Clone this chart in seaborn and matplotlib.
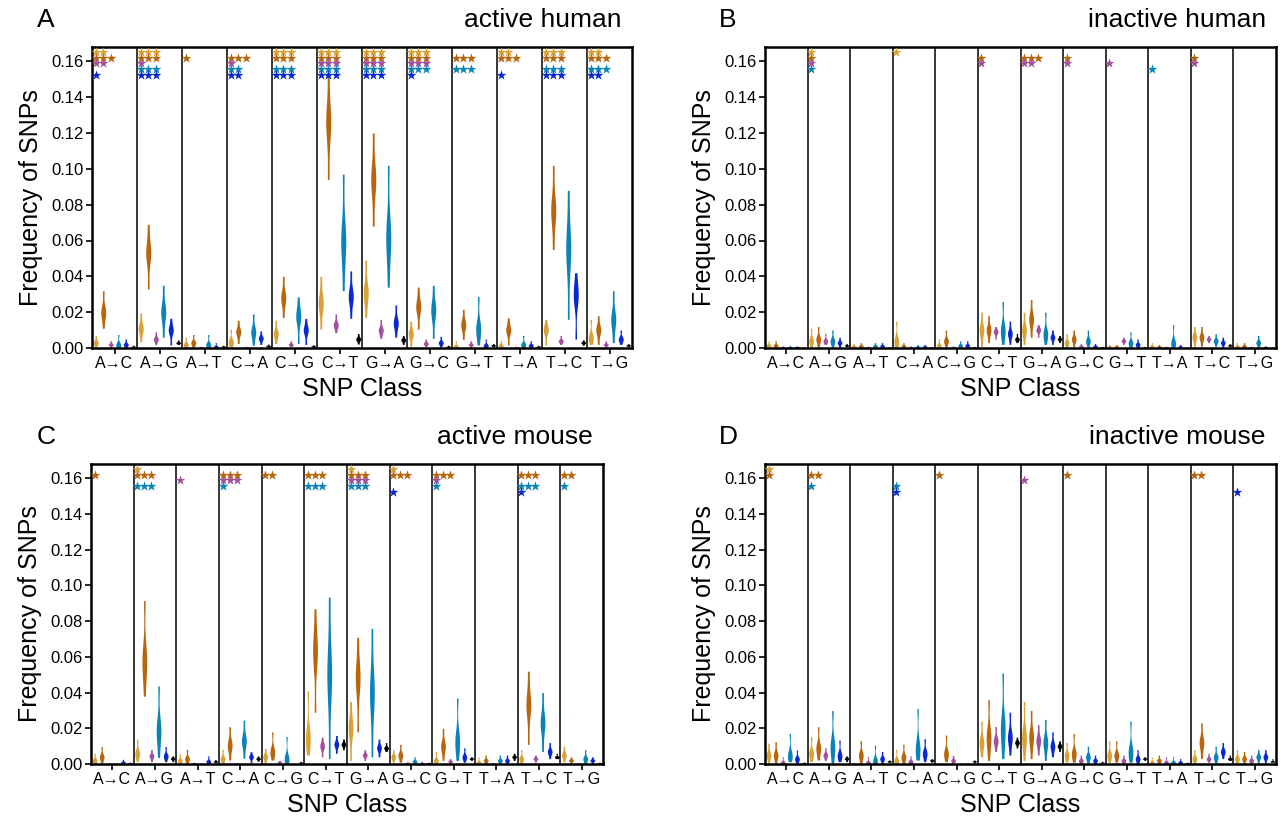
import numpy as np
import pandas as pd
import matplotlib
matplotlib.use("Agg")
import matplotlib.pyplot as plt
import seaborn as sns

sns.set_style("ticks")
plt.rcParams['font.family'] = ['Liberation Sans', 'DejaVu Sans']
plt.rcParams['text.color'] = 'black'
plt.rcParams['axes.labelcolor'] = 'black'
plt.rcParams['xtick.color'] = 'black'
plt.rcParams['ytick.color'] = 'black'

classes = ["A→C", "A→G", "A→T", "C→A", "C→G", "C→T",
           "G→A", "G→C", "G→T", "T→A", "T→C", "T→G"]
groups = ["group 1", "group 2", "group 3", "group 4", "group 5", "group 6"]
palette = ["#D9A136", "#B8650C", "#A2509E", "#0A84B8", "#0A28D0", "#000000"]
panel_titles = ["active human", "inactive human", "active mouse", "inactive mouse"]
panel_letters = ["A", "B", "C", "D"]
yticks = [0.00, 0.02, 0.04, 0.06, 0.08, 0.10, 0.12, 0.14, 0.16]
star_levels = [0.1654, 0.1621, 0.1589, 0.1555, 0.1523]

# ---- active human: rows = SNP class, columns = 6 groups ----
ah_lo = [[0.0003, 0.011, 0.0005, 0.0, 0.0, 0.0003],
         [0.0035, 0.033, 0.002, 0.006, 0.0017, 0.002],
         [0.0, 0.0005, 0.0001, 0.0, 0.0, 0.0003],
         [0.0003, 0.0025, 0.0001, 0.0015, 0.002, 0.0006],
         [0.0025, 0.017, 0.0005, 0.0025, 0.002, 0.0004],
         [0.0105, 0.094, 0.0086, 0.032, 0.0166, 0.0022],
         [0.017, 0.068, 0.0054, 0.034, 0.006, 0.002],
         [0.001, 0.0105, 0.0005, 0.0054, 0.0005, 0.0003],
         [0.0, 0.0048, 0.0005, 0.0017, 0.0, 0.0008],
         [0.0, 0.0017, 0.0001, 0.0, 0.0, 0.0003],
         [0.0017, 0.055, 0.002, 0.016, 0.005, 0.0015],
         [0.002, 0.002, 0.0005, 0.003, 0.002, 0.0008]]
ah_mid = [[0.003, 0.020, 0.002, 0.002, 0.002, 0.0008],
          [0.011, 0.053, 0.005, 0.020, 0.010, 0.003],
          [0.002, 0.003, 0.0004, 0.002, 0.0008, 0.0008],
          [0.0035, 0.009, 0.0004, 0.009, 0.0055, 0.0012],
          [0.008, 0.028, 0.002, 0.0175, 0.010, 0.001],
          [0.025, 0.126, 0.013, 0.060, 0.029, 0.005],
          [0.031, 0.094, 0.010, 0.062, 0.014, 0.0045],
          [0.008, 0.023, 0.0025, 0.021, 0.003, 0.0008],
          [0.001, 0.013, 0.002, 0.011, 0.0015, 0.0015],
          [0.0015, 0.010, 0.0004, 0.002, 0.0015, 0.0008],
          [0.010, 0.077, 0.004, 0.055, 0.029, 0.003],
          [0.006, 0.010, 0.002, 0.016, 0.005, 0.0015]]
ah_hi = [[0.007, 0.032, 0.004, 0.0075, 0.005, 0.0015],
         [0.0196, 0.069, 0.009, 0.035, 0.0166, 0.0045],
         [0.006, 0.0075, 0.001, 0.0075, 0.003, 0.0015],
         [0.0105, 0.0155, 0.001, 0.019, 0.0095, 0.0022],
         [0.0155, 0.040, 0.004, 0.0285, 0.0165, 0.0018],
         [0.040, 0.154, 0.019, 0.097, 0.043, 0.008],
         [0.049, 0.120, 0.016, 0.102, 0.024, 0.007],
         [0.015, 0.034, 0.005, 0.035, 0.0065, 0.0015],
         [0.004, 0.0216, 0.004, 0.0287, 0.005, 0.0025],
         [0.004, 0.0168, 0.001, 0.007, 0.004, 0.0015],
         [0.016, 0.102, 0.007, 0.088, 0.042, 0.0045],
         [0.016, 0.018, 0.004, 0.032, 0.010, 0.0025]]
ah_stars = [[2, 3, 2, 0, 1], [3, 3, 1, 3, 3], [0, 1, 0, 0, 0], [0, 3, 1, 2, 2],
            [3, 3, 0, 3, 3], [3, 3, 3, 3, 3], [3, 3, 3, 3, 3], [3, 3, 3, 3, 1],
            [0, 3, 0, 3, 0], [2, 3, 0, 0, 1], [3, 3, 0, 3, 3], [2, 3, 0, 3, 2]]

# ---- inactive human ----
ih_lo = [[0, 0, 0, 0, 0, 0.0001],
         [0, 0.0005, 0.002, 0.0005, 0.0005, 0.0008],
         [0, 0, 0, 0, 0, 0.0001],
         [0, 0, 0, 0, 0, 0.0002],
         [0, 0.0005, 0, 0, 0, 0.0002],
         [0.001, 0.003, 0.005, 0.002, 0.002, 0.003],
         [0.002, 0.006, 0.006, 0.002, 0.002, 0.003],
         [0, 0.0005, 0, 0.0003, 0, 0.0002],
         [0, 0, 0.002, 0.0003, 0, 0.0002],
         [0, 0, 0, 0, 0, 0.0001],
         [0.0005, 0.001, 0.003, 0.001, 0.0005, 0.0008],
         [0, 0, 0, 0, 0, 0.0001]]
ih_mid = [[0.0015, 0.0015, 0.0005, 0.0005, 0.0005, 0.0003],
          [0.004, 0.005, 0.004, 0.004, 0.003, 0.0015],
          [0.001, 0.0012, 0.0004, 0.0012, 0.0012, 0.0003],
          [0.004, 0.0012, 0.0005, 0.0008, 0.0008, 0.0005],
          [0.0015, 0.004, 0.0005, 0.0015, 0.0015, 0.0005],
          [0.010, 0.010, 0.009, 0.010, 0.008, 0.005],
          [0.010, 0.016, 0.010, 0.008, 0.006, 0.005],
          [0.003, 0.005, 0.001, 0.004, 0.001, 0.0005],
          [0.0008, 0.0008, 0.004, 0.003, 0.002, 0.0005],
          [0.001, 0.0008, 0.0004, 0.003, 0.0008, 0.0003],
          [0.006, 0.006, 0.005, 0.004, 0.003, 0.0015],
          [0.001, 0.0012, 0.0004, 0.003, 0.0005, 0.0003]]
ih_hi = [[0.004, 0.004, 0.0012, 0.0015, 0.0012, 0.0006],
         [0.011, 0.012, 0.008, 0.010, 0.006, 0.0025],
         [0.0025, 0.003, 0.001, 0.003, 0.003, 0.0006],
         [0.015, 0.003, 0.0012, 0.002, 0.002, 0.0008],
         [0.005, 0.010, 0.0012, 0.004, 0.004, 0.0008],
         [0.020, 0.018, 0.012, 0.026, 0.015, 0.008],
         [0.020, 0.027, 0.013, 0.020, 0.010, 0.007],
         [0.008, 0.010, 0.0025, 0.010, 0.0025, 0.0008],
         [0.002, 0.002, 0.006, 0.009, 0.005, 0.0008],
         [0.003, 0.002, 0.001, 0.013, 0.002, 0.0005],
         [0.012, 0.012, 0.007, 0.008, 0.006, 0.0025],
         [0.003, 0.003, 0.001, 0.007, 0.0012, 0.0005]]
ih_stars = [[0, 0, 0, 0, 0], [1, 1, 1, 1, 0], [0, 0, 0, 0, 0], [1, 0, 0, 0, 0],
            [0, 0, 0, 0, 0], [0, 1, 1, 0, 0], [0, 3, 2, 0, 0], [0, 1, 1, 0, 0],
            [0, 0, 1, 0, 0], [0, 0, 0, 1, 0], [0, 1, 1, 0, 0], [0, 0, 0, 0, 0]]

# ---- active mouse ----
am_lo = [[0, 0.0005, 0, 0, 0, 0.0002],
         [0.0013, 0.038, 0.0013, 0.0037, 0.0013, 0.0013],
         [0, 0, 0, 0, 0, 0.0008],
         [0, 0.0022, 0, 0.0032, 0.0007, 0.0015],
         [0, 0.0022, 0, 0, 0, 0.0003],
         [0.005, 0.029, 0.004, 0.003, 0.006, 0.008],
         [0.002, 0.018, 0.002, 0.004, 0.004, 0.007],
         [0.001, 0.001, 0, 0, 0, 0.0002],
         [0, 0.002, 0, 0.002, 0.001, 0.002],
         [0, 0, 0, 0, 0, 0.002],
         [0.0005, 0.011, 0.001, 0.007, 0.003, 0.003],
         [0.001, 0, 0, 0, 0, 0.0002]]
am_mid = [[0.002, 0.004, 0.0002, 0.0002, 0.001, 0.0005],
          [0.006, 0.058, 0.0045, 0.019, 0.0045, 0.003],
          [0.002, 0.003, 0.0005, 0.0002, 0.0015, 0.0015],
          [0.003, 0.0106, 0.0003, 0.013, 0.004, 0.003],
          [0.004, 0.007, 0.001, 0.003, 0.0002, 0.0008],
          [0.015, 0.063, 0.010, 0.050, 0.011, 0.011],
          [0.020, 0.048, 0.005, 0.040, 0.009, 0.009],
          [0.004, 0.005, 0.0005, 0.0015, 0.0005, 0.0005],
          [0.002, 0.010, 0.0015, 0.013, 0.004, 0.003],
          [0.001, 0.002, 0.0003, 0.002, 0.002, 0.004],
          [0.003, 0.033, 0.003, 0.023, 0.007, 0.004],
          [0.005, 0.002, 0.0003, 0.003, 0.002, 0.0005]]
am_hi = [[0.006, 0.0097, 0.0005, 0.0005, 0.0026, 0.001],
         [0.0138, 0.0915, 0.0082, 0.0437, 0.0097, 0.0045],
         [0.0056, 0.0082, 0.001, 0.0005, 0.0045, 0.0025],
         [0.0082, 0.0209, 0.0008, 0.0246, 0.0069, 0.0045],
         [0.0088, 0.018, 0.002, 0.0155, 0.0005, 0.0015],
         [0.041, 0.087, 0.015, 0.0935, 0.016, 0.014],
         [0.035, 0.071, 0.008, 0.076, 0.014, 0.012],
         [0.008, 0.011, 0.0015, 0.004, 0.0015, 0.001],
         [0.007, 0.020, 0.003, 0.037, 0.009, 0.004],
         [0.004, 0.005, 0.0008, 0.005, 0.005, 0.006],
         [0.008, 0.052, 0.005, 0.040, 0.012, 0.006],
         [0.010, 0.004, 0.0008, 0.008, 0.004, 0.001]]
am_stars = [[0, 1, 0, 0, 0], [1, 3, 0, 3, 0], [0, 0, 1, 0, 0], [0, 3, 3, 1, 0],
            [0, 2, 0, 0, 0], [0, 3, 0, 3, 0], [1, 3, 3, 3, 0], [1, 3, 0, 0, 1],
            [0, 3, 1, 1, 0], [0, 0, 0, 0, 0], [0, 3, 0, 3, 1], [0, 2, 0, 1, 0]]

# ---- inactive mouse ----
im_lo = [[0, 0, 0, 0.0013, 0.0005, 0.0002],
         [0.0013, 0.0022, 0.002, 0.0005, 0.0013, 0.0013],
         [0, 0, 0, 0, 0, 0.0008],
         [0, 0, 0, 0.0022, 0.0013, 0.001],
         [0, 0.0013, 0, 0, 0, 0.0008],
         [0.004, 0.002, 0.007, 0.003, 0.005, 0.009],
         [0.002, 0.003, 0.005, 0.002, 0.004, 0.007],
         [0.001, 0.001, 0, 0, 0, 0.0003],
         [0.001, 0.001, 0, 0.001, 0, 0.002],
         [0, 0, 0, 0, 0, 0.0002],
         [0, 0.003, 0.001, 0.0005, 0.003, 0.002],
         [0, 0, 0, 0.0005, 0.0005, 0.001]]
im_mid = [[0.005, 0.005, 0.001, 0.005, 0.003, 0.0005],
          [0.006, 0.009, 0.005, 0.010, 0.005, 0.003],
          [0.0003, 0.005, 0.001, 0.002, 0.003, 0.0015],
          [0.002, 0.004, 0.0015, 0.009, 0.006, 0.002],
          [0.0002, 0.006, 0.002, 0.0002, 0.0002, 0.0015],
          [0.012, 0.015, 0.013, 0.020, 0.015, 0.012],
          [0.015, 0.015, 0.013, 0.012, 0.010, 0.010],
          [0.005, 0.006, 0.002, 0.004, 0.002, 0.0008],
          [0.005, 0.005, 0.002, 0.007, 0.003, 0.003],
          [0.001, 0.002, 0.001, 0.001, 0.001, 0.0005],
          [0.003, 0.012, 0.003, 0.004, 0.007, 0.003],
          [0.003, 0.003, 0.002, 0.004, 0.004, 0.0015]]
im_hi = [[0.0116, 0.0125, 0.004, 0.0172, 0.0078, 0.0012],
         [0.0153, 0.0209, 0.009, 0.0299, 0.0134, 0.0045],
         [0.001, 0.013, 0.004, 0.0105, 0.007, 0.0022],
         [0.0082, 0.011, 0.0045, 0.0311, 0.0141, 0.003],
         [0.0005, 0.0162, 0.0048, 0.0005, 0.0005, 0.0022],
         [0.024, 0.036, 0.021, 0.051, 0.029, 0.015],
         [0.035, 0.030, 0.022, 0.025, 0.018, 0.013],
         [0.012, 0.017, 0.005, 0.010, 0.005, 0.0015],
         [0.013, 0.013, 0.005, 0.024, 0.008, 0.004],
         [0.004, 0.005, 0.004, 0.004, 0.003, 0.001],
         [0.008, 0.023, 0.006, 0.010, 0.012, 0.005],
         [0.008, 0.007, 0.005, 0.008, 0.008, 0.003]]
im_stars = [[1, 1, 0, 0, 0], [0, 2, 0, 1, 0], [0, 0, 0, 0, 0], [0, 0, 0, 1, 1],
            [0, 1, 0, 0, 0], [0, 0, 0, 0, 0], [0, 0, 1, 0, 0], [0, 1, 0, 0, 0],
            [0, 0, 0, 0, 0], [0, 0, 0, 0, 0], [0, 2, 0, 0, 0], [0, 0, 0, 0, 1]]

panels = [(ah_lo, ah_mid, ah_hi, ah_stars),
          (ih_lo, ih_mid, ih_hi, ih_stars),
          (am_lo, am_mid, am_hi, am_stars),
          (im_lo, im_mid, im_hi, im_stars)]

W, H = 1281, 824
# axes boxes in pixels: left, right, top, bottom
boxes = [(92, 632, 47, 348), (765, 1276, 47, 348),
         (91, 603, 464, 764), (765, 1276, 464, 764)]
letter_pos = [(46, 20), (728, 20), (46, 437), (728, 437)]

fig = plt.figure(figsize=(W / 100, H / 100), dpi=100)

for p, (lo, mid, hi, stars) in enumerate(panels):
    l, r, t, b = boxes[p]
    ax = fig.add_axes([l / W, 1 - b / H, (r - l) / W, (b - t) / H])
    recs = []
    for ci, cls in enumerate(classes):
        for gi, grp in enumerate(groups):
            for v in (lo[ci][gi], mid[ci][gi], mid[ci][gi], mid[ci][gi], hi[ci][gi]):
                recs.append((cls, grp, v))
    df = pd.DataFrame(recs, columns=["cls", "grp", "val"])
    sns.violinplot(data=df, x="cls", y="val", hue="grp", order=classes,
                   hue_order=groups, palette=palette, dodge=True, width=1.0,
                   gap=0.33, cut=0, inner=None, density_norm="width",
                   linewidth=0, saturation=1, bw_adjust=0.7, legend=False, ax=ax)
    # significance stars
    for ci in range(len(classes)):
        for ri in range(5):
            n = stars[ci][ri]
            if n:
                xs = [ci - 0.5 + 1 / 12 + k / 6 for k in range(n)]
                ax.scatter(xs, [star_levels[ri]] * n, marker="*", s=55,
                           color=palette[ri], linewidths=0, zorder=5, clip_on=False)
    for ci in range(len(classes) - 1):
        ax.axvline(ci + 0.5, color="black", lw=1.1, zorder=1)
    ax.set_xlim(-0.5, len(classes) - 0.5)
    ax.set_ylim(0, 0.168)
    ax.set_yticks(yticks)
    ax.set_yticklabels([f"{v:.2f}" for v in yticks])
    ax.set_xticks(range(len(classes)))
    ax.set_xticklabels(classes)
    ax.tick_params(axis="y", labelsize=12, length=4, width=1.2, color="black",
                   labelcolor="black", pad=2)
    ax.tick_params(axis="x", labelsize=11.5, length=4, width=1.2, color="black",
                   labelcolor="black", pad=2)
    for s in ax.spines.values():
        s.set_visible(True)
        s.set_linewidth(1.8)
        s.set_color("black")
    ax.set_xlabel("SNP Class", fontsize=18, labelpad=4, color="black")
    ax.set_ylabel("Frequency of SNPs", fontsize=18, labelpad=6, color="black")
    ax.text(0.98, 1.09, panel_titles[p], transform=ax.transAxes, ha="right",
            va="center", fontsize=19, color="black")
    lx, ly = letter_pos[p]
    fig.text(lx / W, 1 - ly / H, panel_letters[p], ha="center", va="center",
             fontsize=19, color="black")

fig.savefig("out.png", dpi=100)
